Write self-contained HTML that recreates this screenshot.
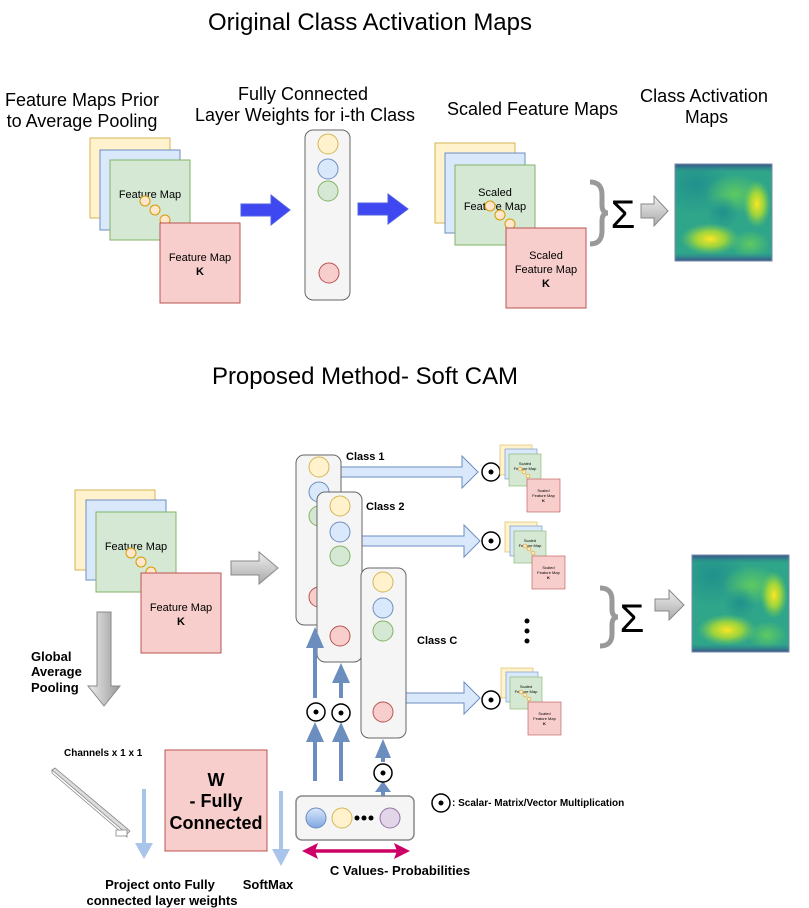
<!DOCTYPE html>
<html><head><meta charset="utf-8"><style>
html,body{margin:0;padding:0;background:#fff;}
svg{display:block;font-family:"Liberation Sans",Arial,sans-serif;}
</style></head><body>
<svg width="809" height="908" viewBox="0 0 809 908" xmlns="http://www.w3.org/2000/svg">
<defs>
<clipPath id="hc"><rect x="0" y="0" width="97" height="97"/></clipPath>
<radialGradient id="y1" cx="0.5" cy="0.5" r="0.5"><stop offset="0" stop-color="#fde725"/><stop offset="0.5" stop-color="#b5de2b" stop-opacity="0.8"/><stop offset="1" stop-color="#6ece58" stop-opacity="0"/></radialGradient>
<radialGradient id="g1" cx="0.5" cy="0.5" r="0.5"><stop offset="0" stop-color="#5ec962"/><stop offset="1" stop-color="#5ec962" stop-opacity="0"/></radialGradient>
<radialGradient id="d1" cx="0.5" cy="0.5" r="0.5"><stop offset="0" stop-color="#21918c"/><stop offset="1" stop-color="#21918c" stop-opacity="0"/></radialGradient>
<linearGradient id="edge" x1="0" y1="0" x2="0" y2="1"><stop offset="0" stop-color="#3b528b"/><stop offset="0.08" stop-color="#2a788e" stop-opacity="0"/><stop offset="0.92" stop-color="#2a788e" stop-opacity="0"/><stop offset="1" stop-color="#3b528b"/></linearGradient>
<linearGradient id="garr" x1="0" y1="0" x2="0" y2="1"><stop offset="0" stop-color="#eee"/><stop offset="1" stop-color="#aaa"/></linearGradient>
<linearGradient id="garr2" x1="0" y1="0" x2="1" y2="0"><stop offset="0" stop-color="#eee"/><stop offset="1" stop-color="#999"/></linearGradient>
<linearGradient id="bc" x1="0" y1="0" x2="0" y2="1"><stop offset="0" stop-color="#dae8fc"/><stop offset="1" stop-color="#7ea6e0"/></linearGradient>
<g id="heat">
<g clip-path="url(#hc)">
<rect x="0" y="0" width="97" height="97" fill="#2fa58a"/>
<ellipse cx="20" cy="20" rx="35" ry="30" fill="url(#d1)"/>
<ellipse cx="60" cy="30" rx="30" ry="20" fill="url(#g1)"/>
<ellipse cx="82" cy="40" rx="14" ry="24" fill="url(#y1)"/>
<ellipse cx="35" cy="75" rx="30" ry="16" fill="url(#y1)"/>
<ellipse cx="75" cy="80" rx="20" ry="14" fill="url(#g1)"/>
<ellipse cx="48" cy="48" rx="16" ry="16" fill="url(#d1)"/>
<rect x="0" y="0" width="97" height="97" fill="url(#edge)"/>
</g>
<rect x="0" y="0" width="97" height="97" fill="none" stroke="#7a8aa8" stroke-width="1"/>
</g>
<g id="odot"><circle cx="0" cy="0" r="9" fill="#fff" stroke="#000" stroke-width="1.5"/><circle cx="0" cy="0" r="2.5" fill="#000"/></g>
<g id="col">
<rect x="0" y="0" width="45" height="170" rx="8" fill="#f5f5f5" stroke="#666"/>
</g>
<g id="small">
<rect x="0" y="0" width="32" height="30" fill="#fff2cc" stroke="#d6b656" stroke-width="0.6"/>
<rect x="5" y="4" width="32" height="30" fill="#dae8fc" stroke="#6c8ebf" stroke-width="0.6"/>
<rect x="9" y="9" width="32" height="32" fill="#d5e8d4" stroke="#82b366" stroke-width="0.6"/>
<text x="25" y="20" font-size="4" text-anchor="middle">Scaled</text>
<text x="25" y="25" font-size="4" text-anchor="middle">Feature Map</text>
<circle cx="20" cy="24" r="2" fill="#ffe6cc" stroke="#d79b00" stroke-width="0.5"/>
<circle cx="24" cy="27" r="2" fill="#ffe6cc" stroke="#d79b00" stroke-width="0.5"/>
<circle cx="28" cy="31" r="2" fill="#ffe6cc" stroke="#d79b00" stroke-width="0.5"/>
<rect x="27" y="34" width="33" height="33" fill="#f8cecc" stroke="#b85450" stroke-width="0.6"/>
<text x="43.5" y="47" font-size="4" text-anchor="middle">Scaled</text>
<text x="43.5" y="52" font-size="4" text-anchor="middle">Feature Map</text>
<text x="43.5" y="57" font-size="4" text-anchor="middle" font-weight="bold">K</text>
</g>
</defs>

<!-- Top -->
<text x="208" y="30" font-size="24" textLength="324" lengthAdjust="spacingAndGlyphs">Original Class Activation Maps</text>
<text x="82" y="106" font-size="18" text-anchor="middle">Feature Maps Prior</text>
<text x="82" y="127" font-size="18" text-anchor="middle">to Average Pooling</text>
<text x="238" y="100" font-size="18" textLength="130" lengthAdjust="spacingAndGlyphs">Fully Connected</text>
<text x="195" y="121" font-size="18" textLength="220" lengthAdjust="spacingAndGlyphs">Layer Weights for i-th Class</text>
<text x="447" y="115" font-size="18" textLength="171" lengthAdjust="spacingAndGlyphs">Scaled Feature Maps</text>
<text x="640" y="102" font-size="18" textLength="128" lengthAdjust="spacingAndGlyphs">Class Activation</text>
<text x="685" y="123" font-size="18" textLength="43" lengthAdjust="spacingAndGlyphs">Maps</text>

<rect x="90" y="138" width="80" height="80" fill="#fff2cc" stroke="#d6b656"/>
<rect x="100" y="150" width="80" height="80" fill="#dae8fc" stroke="#6c8ebf"/>
<rect x="110" y="160" width="80" height="80" fill="#d5e8d4" stroke="#82b366"/>
<text x="150" y="198" font-size="11" text-anchor="middle">Feature Map</text>
<circle cx="145" cy="201" r="5" fill="#ffe6cc" stroke="#d79b00"/>
<circle cx="155" cy="210" r="5" fill="#ffe6cc" stroke="#d79b00"/>
<circle cx="165" cy="220" r="5" fill="#ffe6cc" stroke="#d79b00"/>
<rect x="160" y="223" width="80" height="80" fill="#f8cecc" stroke="#b85450"/>
<text x="200" y="261" font-size="11" text-anchor="middle">Feature Map</text>
<text x="200" y="275" font-size="11" text-anchor="middle" font-weight="bold">K</text>

<polygon points="241,204 271,204 271,195 290,210 271,225 271,216 241,216" fill="#3f48f0" stroke="#5060e0"/>
<use href="#col" x="305" y="130"/>
<circle cx="328" cy="144" r="10" fill="#fff2cc" stroke="#d6b656"/>
<circle cx="328" cy="169" r="10" fill="#dae8fc" stroke="#6c8ebf"/>
<circle cx="328" cy="191" r="10" fill="#d5e8d4" stroke="#82b366"/>
<circle cx="329" cy="273" r="10" fill="#f8cecc" stroke="#b85450"/>
<polygon points="358,203 388,203 388,194 408,209 388,224 388,215 358,215" fill="#3f48f0" stroke="#5060e0"/>

<rect x="435" y="143" width="80" height="80" fill="#fff2cc" stroke="#d6b656"/>
<rect x="445" y="153" width="80" height="80" fill="#dae8fc" stroke="#6c8ebf"/>
<rect x="455" y="165" width="80" height="80" fill="#d5e8d4" stroke="#82b366"/>
<text x="495" y="196" font-size="11" text-anchor="middle">Scaled</text>
<text x="495" y="210" font-size="11" text-anchor="middle">Feature Map</text>
<circle cx="490" cy="206" r="5" fill="#ffe6cc" stroke="#d79b00"/>
<circle cx="500" cy="215" r="5" fill="#ffe6cc" stroke="#d79b00"/>
<circle cx="510" cy="224" r="5" fill="#ffe6cc" stroke="#d79b00"/>
<rect x="506" y="228" width="80" height="80" fill="#f8cecc" stroke="#b85450"/>
<text x="546" y="259" font-size="11" text-anchor="middle">Scaled</text>
<text x="546" y="273" font-size="11" text-anchor="middle">Feature Map</text>
<text x="546" y="287" font-size="11" text-anchor="middle" font-weight="bold">K</text>

<path d="M590,182 Q602,182 602,195 L602,205 Q602,213 608,213 Q602,213 602,221 L602,231 Q602,244 590,244" fill="none" stroke="#999" stroke-width="5"/>
<text x="623" y="228" font-size="40" text-anchor="middle">Σ</text>
<polygon points="641,204 654,204 654,196 668,211 654,226 654,218 641,218" fill="url(#garr)" stroke="#888"/>
<use href="#heat" x="675" y="164"/>

<!-- Bottom -->
<text x="212" y="384" font-size="24" textLength="306" lengthAdjust="spacingAndGlyphs">Proposed Method- Soft CAM</text>

<rect x="75" y="490" width="80" height="80" fill="#fff2cc" stroke="#d6b656"/>
<rect x="86" y="500" width="80" height="80" fill="#dae8fc" stroke="#6c8ebf"/>
<rect x="96" y="512" width="80" height="80" fill="#d5e8d4" stroke="#82b366"/>
<text x="136" y="550" font-size="11" text-anchor="middle">Feature Map</text>
<circle cx="131" cy="553" r="5" fill="#ffe6cc" stroke="#d79b00"/>
<circle cx="141" cy="562" r="5" fill="#ffe6cc" stroke="#d79b00"/>
<circle cx="151" cy="572" r="5" fill="#ffe6cc" stroke="#d79b00"/>
<rect x="141" y="573" width="80" height="80" fill="#f8cecc" stroke="#b85450"/>
<text x="181" y="611" font-size="11" text-anchor="middle">Feature Map</text>
<text x="181" y="625" font-size="11" text-anchor="middle" font-weight="bold">K</text>

<polygon points="231,561 259,561 259,552 278,568 259,584 259,575 231,575" fill="url(#garr)" stroke="#888"/>
<polygon points="97,612 111,612 111,686 120,686 104,706 88,686 97,686" fill="url(#garr2)" stroke="#888"/>
<text x="31" y="661" font-size="13" font-weight="bold">Global</text>
<text x="31" y="676" font-size="13" font-weight="bold">Average</text>
<text x="31" y="692" font-size="13" font-weight="bold">Pooling</text>

<polygon points="341,467 462,467 462,456 478,472 462,488 462,477 341,477" fill="#dae8fc" stroke="#6c8ebf"/>
<polygon points="360,536 464,536 464,525 480,541 464,557 464,546 360,546" fill="#dae8fc" stroke="#6c8ebf"/>
<polygon points="405,693 464,693 464,682 480,698 464,714 464,703 405,703" fill="#dae8fc" stroke="#6c8ebf"/>

<use href="#col" x="296" y="455"/>
<circle cx="319" cy="467" r="10" fill="#fff2cc" stroke="#d6b656"/>
<circle cx="319" cy="492" r="10" fill="#dae8fc" stroke="#6c8ebf"/>
<circle cx="319" cy="516" r="10" fill="#d5e8d4" stroke="#82b366"/>
<circle cx="319" cy="597" r="10" fill="#f8cecc" stroke="#b85450"/>
<use href="#col" x="317" y="492"/>
<circle cx="340" cy="506" r="10" fill="#fff2cc" stroke="#d6b656"/>
<circle cx="340" cy="532" r="10" fill="#dae8fc" stroke="#6c8ebf"/>
<circle cx="340" cy="556" r="10" fill="#d5e8d4" stroke="#82b366"/>
<circle cx="340" cy="636" r="10" fill="#f8cecc" stroke="#b85450"/>
<use href="#col" x="361" y="568"/>
<circle cx="383" cy="582" r="10" fill="#fff2cc" stroke="#d6b656"/>
<circle cx="383" cy="608" r="10" fill="#dae8fc" stroke="#6c8ebf"/>
<circle cx="383" cy="631" r="10" fill="#d5e8d4" stroke="#82b366"/>
<circle cx="383" cy="712" r="10" fill="#f8cecc" stroke="#b85450"/>

<text x="346" y="460" font-size="11" font-weight="bold">Class 1</text>
<text x="366" y="510" font-size="11" font-weight="bold">Class 2</text>
<text x="417" y="644" font-size="11" font-weight="bold">Class C</text>

<use href="#odot" x="491" y="472"/>
<use href="#odot" x="491" y="541"/>
<use href="#odot" x="491" y="700"/>
<use href="#small" x="500" y="445"/>
<use href="#small" x="505" y="522"/>
<use href="#small" x="501" y="668"/>
<circle cx="527" cy="621" r="2.5" fill="#000"/>
<circle cx="527" cy="631" r="2.5" fill="#000"/>
<circle cx="527" cy="641" r="2.5" fill="#000"/>

<path d="M600,588 Q612,588 612,600 L612,609 Q612,617 618,617 Q612,617 612,625 L612,634 Q612,646 600,646" fill="none" stroke="#999" stroke-width="5"/>
<text x="632" y="632" font-size="40" text-anchor="middle">Σ</text>
<polygon points="655,599 669,599 669,590 684,605 669,620 669,611 655,611" fill="url(#garr)" stroke="#888"/>
<use href="#heat" x="692" y="555"/>

<g stroke="#6c8ebf" stroke-width="4" fill="#6c8ebf">
<line x1="315" y1="781" x2="315" y2="738"/><polygon points="306,742 315,722 324,742" stroke="none"/>
<line x1="341" y1="781" x2="341" y2="738"/><polygon points="332,742 341,722 350,742" stroke="none"/>
<line x1="315" y1="698" x2="315" y2="643"/><polygon points="306,648 315,627 324,648" stroke="none"/>
<line x1="341" y1="698" x2="341" y2="680"/><polygon points="332,683 341,663 350,683" stroke="none"/>
<line x1="383" y1="796" x2="383" y2="790"/><polygon points="375,792 383,781 391,792" stroke="none"/>
<line x1="383" y1="762" x2="383" y2="755"/><polygon points="375,758 383,739 391,758" stroke="none"/>
</g>
<use href="#odot" x="316" y="712"/>
<use href="#odot" x="341" y="713"/>
<use href="#odot" x="383" y="773"/>

<rect x="296" y="796" width="118" height="44" rx="6" fill="#f5f5f5" stroke="#888" stroke-width="1.5"/>
<circle cx="316" cy="818" r="10" fill="url(#bc)" stroke="#6c8ebf"/>
<circle cx="342" cy="818" r="10" fill="#fff2cc" stroke="#d6b656"/>
<circle cx="357" cy="818" r="2.5" fill="#000"/><circle cx="364" cy="818" r="2.5" fill="#000"/><circle cx="371" cy="818" r="2.5" fill="#000"/>
<circle cx="390" cy="818" r="10" fill="#e1d5e7" stroke="#9673a6"/>

<line x1="312" y1="851" x2="400" y2="851" stroke="#cc0066" stroke-width="3.5"/>
<polygon points="302,851 318,843 315,851 318,859" fill="#cc0066"/>
<polygon points="410,851 394,843 397,851 394,859" fill="#cc0066"/>
<text x="400" y="875" font-size="13" font-weight="bold" text-anchor="middle">C Values- Probabilities</text>

<text x="64" y="756" font-size="10" font-weight="bold">Channels x 1 x 1</text>
<polygon points="52,770 55,768 130,831 127,834" fill="#ddd" stroke="#888" stroke-width="0.8"/>
<polygon points="52,770 127,834 127,837 52,773" fill="#fff" stroke="#888" stroke-width="0.8"/>
<rect x="116" y="830" width="11" height="6" fill="#fff" stroke="#888" stroke-width="0.8"/>

<g stroke="#a9c4eb" stroke-width="4" fill="#a9c4eb">
<line x1="144" y1="789" x2="144" y2="846"/><polygon points="135,843 144,859 153,843" stroke="none"/>
<line x1="281" y1="791" x2="281" y2="852"/><polygon points="272,849 281,866 290,849" stroke="none"/>
</g>

<rect x="165" y="750" width="102" height="101" fill="#f8cecc" stroke="#b85450"/>
<text x="216" y="786" font-size="18" font-weight="bold" text-anchor="middle">W</text>
<text x="216" y="807" font-size="18" font-weight="bold" text-anchor="middle">- Fully</text>
<text x="216" y="829" font-size="18" font-weight="bold" text-anchor="middle">Connected</text>

<text x="160" y="889" font-size="13" font-weight="bold" text-anchor="middle">Project onto Fully</text>
<text x="162" y="905" font-size="13" font-weight="bold" text-anchor="middle">connected layer weights</text>
<text x="268" y="889" font-size="13" font-weight="bold" text-anchor="middle">SoftMax</text>

<use href="#odot" x="441" y="803"/>
<text x="452" y="806" font-size="10" font-weight="bold">: Scalar- Matrix/Vector Multiplication</text>
</svg>
</body></html>
